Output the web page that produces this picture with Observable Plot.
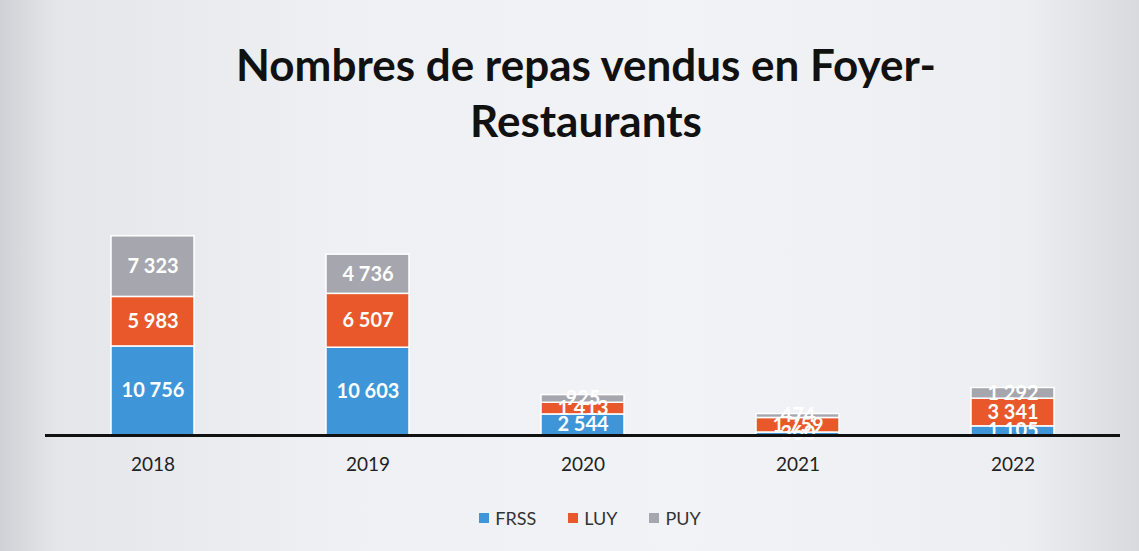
<!DOCTYPE html>
<html>
<head>
<meta charset="utf-8">
<script src="https://cdn.jsdelivr.net/npm/d3@7"></script>
<script src="https://cdn.jsdelivr.net/npm/@observablehq/plot@0.6"></script>
<style>
  html, body { margin: 0; padding: 0; }
  body {
    width: 1139px; height: 551px; overflow: hidden; position: relative;
    background: linear-gradient(to right, #cfd1d6 0%, #e4e6ea 5%, #eef0f3 30%, #f1f3f6 60%, #eceef2 90%, #d8dade 100%);
    font-family: Lato, "Open Sans", sans-serif;
  }
  #title {
    position: absolute; left: 0; top: 36px; width: 1172px; text-align: center;
    font-family: Lato, sans-serif; font-weight: 700; font-size: 44px; line-height: 56px; color: #111;
  }
  #chart { position: absolute; left: 0; top: 160px; }
  #legend { position: absolute; left: 0; top: 507px; width: 1180px; display: flex; justify-content: center; }
  #legend .sw { display: inline-flex; align-items: center; margin: 0 16px; font-size: 18px; color: #333; }
  #legend .sq { width: 10px; height: 10px; margin-right: 6px; display: inline-block; }
</style>
</head>
<body>
<div id="title">Nombres de repas vendus en Foyer-<br>Restaurants</div>
<div id="chart"></div>
<div id="legend"></div>
<script>
const years = ["2018", "2019", "2020", "2021", "2022"];
const series = ["FRSS", "LUY", "PUY"];
const frss = [10756, 10603, 2544, 360, 1105];
const luy = [5983, 6507, 1413, 1759, 3341];
const puy = [7323, 4736, 925, 474, 1292];
const colors = ["#3e96d8", "#e8582a", "#a6a7ae"];

const values = {FRSS: frss, LUY: luy, PUY: puy};
const data = [];
for (const s of series) years.forEach((y, i) => data.push({year: y, serie: s, value: values[s][i]}));

const fmt = d3.formatLocale({decimal: ",", thousands: " ", grouping: [3], currency: ["", "€"]}).format(",d");

const opts = {x: "year", y: "value", z: "serie", order: series};
const chart = Plot.plot({
  width: 1139,
  height: 330,
  marginLeft: 45,
  marginRight: 19,
  marginTop: 20,
  marginBottom: 55,
  style: {background: "transparent", fontFamily: "Lato, sans-serif"},
  x: {domain: years, paddingInner: 0.615, paddingOuter: 0.3, label: null, axis: null},
  y: {domain: [0, 30800], axis: null},
  color: {domain: series, range: colors},
  marks: [
    Plot.barY(data, Plot.stackY({...opts, fill: "serie", stroke: "white", strokeWidth: 1.5})),
    Plot.text(data, Plot.stackY({...opts, fill: "white", fontWeight: 700, fontSize: 20, text: d => fmt(d.value)})),
    Plot.ruleY([0], {stroke: "#111", strokeWidth: 3}),
    Plot.axisX({fontSize: 19, tickSize: 0, tickPadding: 22, fill: "#222", label: null})
  ]
});
document.getElementById("chart").appendChild(chart);

const leg = document.getElementById("legend");
series.forEach((s, i) => {
  const sw = document.createElement("span");
  sw.className = "sw";
  sw.innerHTML = `<span class="sq" style="background:${colors[i]}"></span>${s}`;
  leg.appendChild(sw);
});
</script>
</body>
</html>
